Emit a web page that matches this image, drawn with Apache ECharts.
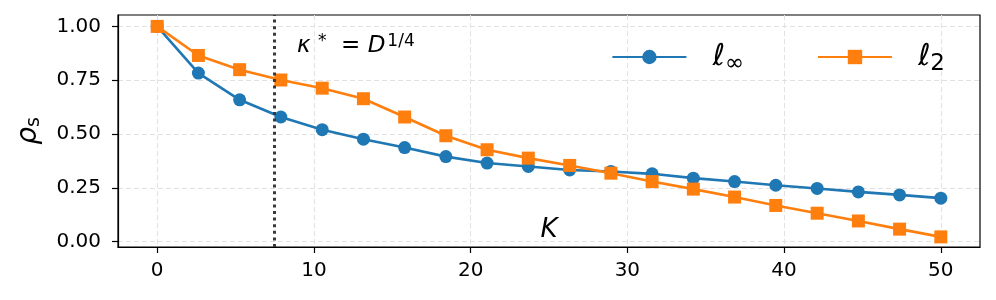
<!DOCTYPE html>
<html>
<head>
<meta charset="utf-8">
<script src="https://cdn.jsdelivr.net/npm/echarts@6/dist/echarts.min.js"></script>
<style>
html,body{margin:0;padding:0;background:#fff;}
#c{width:996px;height:300px;}
</style>
</head>
<body>
<div id="c"></div>
<script>
// ---- data ----
const kValues = [0, 2.63, 5.26, 7.89, 10.53, 13.16, 15.79, 18.42, 21.05, 23.68, 26.32, 28.95, 31.58, 34.21, 36.84, 39.47, 42.11, 44.74, 47.37, 50];
const linfValues = [1.0, 0.783, 0.659, 0.579, 0.520, 0.476, 0.437, 0.395, 0.365, 0.349, 0.333, 0.326, 0.315, 0.295, 0.279, 0.262, 0.247, 0.231, 0.217, 0.202];
const l2Values = [1.0, 0.865, 0.799, 0.751, 0.713, 0.664, 0.579, 0.492, 0.427, 0.388, 0.354, 0.318, 0.279, 0.244, 0.207, 0.168, 0.132, 0.096, 0.058, 0.022];
const seriesNames = ['ℓ∞', 'ℓ2'];
const xTicks = [0, 10, 20, 30, 40, 50];
const yTicks = [0, 0.25, 0.5, 0.75, 1.0];
const kStar = 7.48;

const FONT = 'DejaVu Sans';
const chart = echarts.init(document.getElementById('c'), null, {renderer: 'canvas'});

function pairs(xs, ys) { return xs.map((x, i) => [x, ys[i]]); }

const legendRich = {
  l: {fontFamily: FONT, fontSize: 30, fontStyle: 'italic', color: '#000'},
  s: {fontFamily: FONT, fontSize: 23, color: '#000', padding: [14, 0, 0, 0]}
};

chart.setOption({
  animation: false,
  backgroundColor: '#fff',
  grid: {left: 118, right: 16, top: 15, bottom: 53, show: true, borderColor: '#000', borderWidth: 1.2,
    backgroundColor: 'transparent', outerBoundsMode: 'none', containLabel: false},
  xAxis: {
    type: 'value', min: -2.5, max: 52.5,
    name: 'K', nameLocation: 'middle', nameGap: -30, nameMoveOverlap: false,
    nameTextStyle: {fontFamily: FONT, fontSize: 26, fontStyle: 'italic', color: '#000'},
    axisLine: {show: true, onZero: false, lineStyle: {color: '#000', width: 1.2}},
    axisTick: {show: true, length: 6, customValues: xTicks, lineStyle: {color: '#000', width: 1.2}},
    axisLabel: {customValues: xTicks, fontFamily: FONT, fontSize: 20, color: '#000', margin: 14},
    splitLine: {show: true, lineStyle: {color: '#e2e2e2', type: [5, 3], width: 1}}
  },
  yAxis: {
    type: 'value', min: -0.025, max: 1.053,
    name: '{r|ρ}{s|s}', nameLocation: 'middle', nameGap: 74, nameMoveOverlap: false,
    nameTextStyle: {rich: {
      r: {fontFamily: FONT, fontSize: 28, fontStyle: 'italic', color: '#000'},
      s: {fontFamily: FONT, fontSize: 19, color: '#000', padding: [12, 0, 0, 0]}
    }},
    axisLine: {show: true, onZero: false, lineStyle: {color: '#000', width: 1.2}},
    axisTick: {show: true, length: 6, customValues: yTicks, lineStyle: {color: '#000', width: 1.2}},
    axisLabel: {customValues: yTicks, fontFamily: FONT, fontSize: 20, color: '#000', margin: 17,
      formatter: v => v.toFixed(2)},
    splitLine: {show: true, lineStyle: {color: '#e2e2e2', type: [5, 3], width: 1}}
  },
  legend: {
    right: 51, top: 42, itemWidth: 74, itemHeight: 18, itemGap: 73,
    padding: 0,
    data: seriesNames,
    formatter: name => name === seriesNames[0] ? '{l|ℓ}{s|∞}' : '{l|ℓ}{s|2}',
    textStyle: {rich: legendRich, padding: [0, 0, 0, 21]}
  },
  graphic: [{
    type: 'text', left: 297, top: 33,
    style: {
      text: '{k|κ}{sup| *}{eq|  = }{d|D}{sup|1/4}',
      rich: {
        k: {fontFamily: FONT, fontSize: 23, fontStyle: 'italic', fill: '#000'},
        d: {fontFamily: FONT, fontSize: 23, fontStyle: 'italic', fill: '#000'},
        eq: {fontFamily: FONT, fontSize: 23, fill: '#000'},
        sup: {fontFamily: FONT, fontSize: 17, fill: '#000', padding: [0, 0, 10, 2]}
      }
    }
  }],
  series: [
    {
      name: seriesNames[0], type: 'line', data: pairs(kValues, linfValues),
      symbol: 'circle', symbolSize: 13, color: '#1f77b4',
      lineStyle: {width: 2.6, color: '#1f77b4'}, itemStyle: {color: '#1f77b4'},
      z: 3,
      markLine: {
        symbol: 'none', silent: true, label: {show: false},
        lineStyle: {color: '#3a3a3a', type: [3, 3.6], width: 3},
        data: [{xAxis: kStar}]
      }
    },
    {
      name: seriesNames[1], type: 'line', data: pairs(kValues, l2Values),
      symbol: 'rect', symbolSize: 13, color: '#ff7f0e',
      lineStyle: {width: 2.6, color: '#ff7f0e'}, itemStyle: {color: '#ff7f0e'},
      z: 4
    }
  ]
});
</script>
</body>
</html>
